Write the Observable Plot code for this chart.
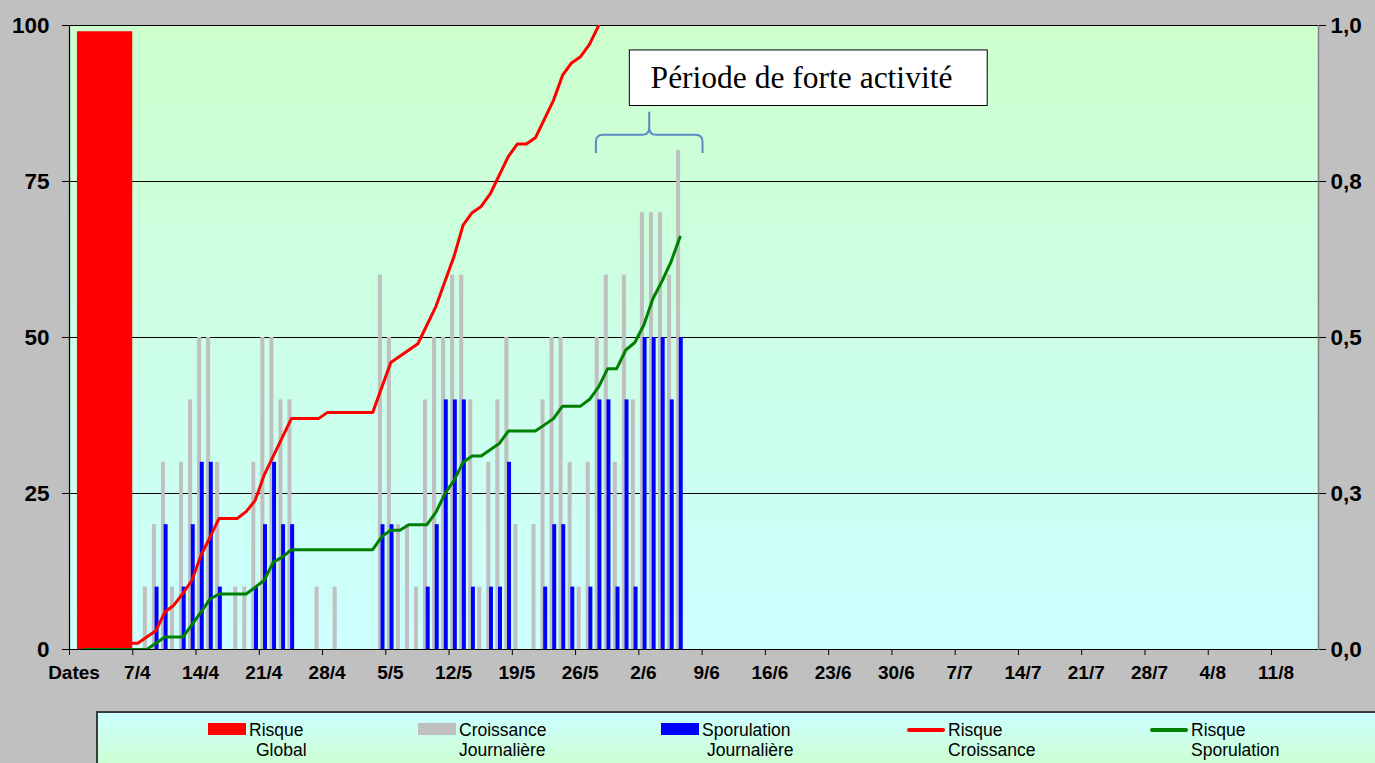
<!DOCTYPE html>
<html>
<head>
<meta charset="utf-8">
<script src="https://cdn.jsdelivr.net/npm/d3@7"></script>
<script src="https://cdn.jsdelivr.net/npm/@observablehq/plot@0.6"></script>
<style>
  html, body { margin: 0; padding: 0; }
  body { width: 1375px; height: 763px; overflow: hidden; position: relative; background: #c0c0c0; font-family: "Liberation Sans", Arial, sans-serif; }
  #chart { position: absolute; left: 0; top: 0; }
  #legend { position: absolute; left: 96px; top: 711px; width: 1300px; height: 60px; box-sizing: border-box;
            border-top: 2px solid #3a3a3a; border-left: 2px solid #3a3a3a;
            background: linear-gradient(#ccffff, #ccffcc); }
  .item { position: absolute; top: 0; font-size: 17.5px; color: #000; line-height: 20px; }
  .sw { position: absolute; }
  .l1, .l2 { position: absolute; white-space: nowrap; }
</style>
</head>
<body>
<div id="chart"></div>
<div id="legend"></div>
<script>
// ---------- data (category k: 0 = "Dates", 1 = 1/4, 7 = 7/4, ...) ----------
const tickLabels = ["Dates","7/4","14/4","21/4","28/4","5/5","12/5","19/5","26/5","2/6","9/6",
                    "16/6","23/6","30/6","7/7","14/7","21/7","28/7","4/8","11/8"];
const tickStep = 7;
const nCategories = 138.2;
const yTicks = [0, 25, 50, 75, 100];
const leftLabels = ["0", "25", "50", "75", "100"];
const rightLabels = ["0,0", "0,3", "0,5", "0,8", "1,0"];

const risqueGlobal = 99;

// daily values from 1/4 (k = 1) onwards
const croissance = [0,0,0,0,0,0,0,10,20,30,10,30,40,50,50,30,0,10,10,30,50,50,40,40,0,0,10,0,10,0,
                    0,0,0,60,50,20,20,10,40,50,50,60,60,40,10,30,40,50,20,0,20,40,50,50,30,10,30,50,60,30,
                    60,40,70,70,70,60,80];
const sporulation = [0,0,0,0,0,0,0,0,10,20,0,10,20,30,30,10,0,0,0,10,20,30,20,20,0,0,0,0,0,0,
                     0,0,0,20,20,0,0,0,10,20,40,40,40,10,0,10,10,30,0,0,0,10,20,20,10,0,10,40,40,10,
                     40,10,50,50,50,40,50];
const risqueCroissance = [0.01,0.01,0.01,0.01,0.01,0.01,0.01,0.02,0.03,0.06,0.071,0.09,0.111,0.151,0.18,0.21,0.21,0.21,0.221,0.239,
                          0.28,0.31,0.34,0.37,0.37,0.37,0.37,0.38,0.38,0.38,0.38,0.38,0.38,0.42,0.46,0.47,0.48,0.49,0.52,0.55,
                          0.59,0.63,0.68,0.70,0.71,0.73,0.76,0.79,0.81,0.81,0.82,0.85,0.88,0.92,0.94,0.95,0.97,1.0,1.04];
const risqueSporulation = [0,0,0,0,0,0,0,0,0.01,0.02,0.02,0.02,0.04,0.06,0.081,0.089,0.089,0.089,0.089,0.10,
                           0.111,0.14,0.148,0.16,0.16,0.16,0.16,0.16,0.16,0.16,0.16,0.16,0.16,0.181,0.191,0.191,0.2,0.2,0.2,0.22,
                           0.25,0.271,0.30,0.31,0.31,0.32,0.33,0.35,0.35,0.35,0.35,0.36,0.37,0.39,0.39,0.39,0.401,0.421,0.45,0.45,
                           0.48,0.492,0.52,0.562,0.59,0.621,0.661];

const activity = { label: "Période de forte activité", start: 58.3, end: 70.1 };

const legendItems = [
  { lines: ["Risque", "Global"], kind: "rect", color: "#ff0000" },
  { lines: ["Croissance", "Journalière"], kind: "rect", color: "#c0c0c0" },
  { lines: ["Sporulation", "Journalière"], kind: "rect", color: "#0000ff" },
  { lines: ["Risque", "Croissance"], kind: "line", color: "#ff0000" },
  { lines: ["Risque", "Sporulation"], kind: "line", color: "#008000" }
];

// ---------- derived tables ----------
const series = arr => arr.map((v, i) => ({ k: i + 1, v }));
const grayBars = series(croissance).filter(d => d.v > 0);
const blueBars = series(sporulation).filter(d => d.v > 0);
const redLine = series(risqueCroissance);
const greenLine = series(risqueSporulation);
const tickPos = tickLabels.map((_, i) => i * tickStep);

const boldFont = "'Liberation Sans', Arial, sans-serif";

function braceMark(index, scales) {
  const x = scales.x, y = scales.y;
  const xl = x(activity.start), xr = x(activity.end), xc = (xl + xr) / 2;
  const yb = y(79.5), ym = y(82.4), yt = y(86.1);
  const r = 7;
  const d = `M${xl},${yb} V${ym + r} Q${xl},${ym} ${xl + r},${ym} H${xc - r} Q${xc},${ym} ${xc},${ym - r} V${yt}` +
            ` M${xc},${ym - r} Q${xc},${ym} ${xc + r},${ym} H${xr - r} Q${xr},${ym} ${xr},${ym + r} V${yb}`;
  const p = document.createElementNS("http://www.w3.org/2000/svg", "path");
  p.setAttribute("d", d);
  p.setAttribute("fill", "none");
  p.setAttribute("stroke", "#5b8ac4");
  p.setAttribute("stroke-width", "2");
  return p;
}

const plot = Plot.plot({
  width: 1375,
  height: 700,
  marginLeft: 69,
  marginRight: 57,
  marginTop: 25,
  marginBottom: 51,
  style: { background: "transparent", color: "#000", fontFamily: boldFont, overflow: "visible" },
  x: { domain: [0, nCategories] },
  y: { domain: [0, 100] },
  marks: [
    Plot.frame({ fill: "url(#plotBg)" }),
    Plot.ruleY([25, 50, 75, 100], { stroke: "#000", strokeWidth: 1 }),
    Plot.rect(grayBars, { x1: d => d.k + 0.17, x2: d => d.k + 0.62, y1: 0, y2: "v", fill: "#c0c0c0" }),
    Plot.rect(blueBars, { x1: d => d.k + 0.47, x2: d => d.k + 0.91, y1: 0, y2: "v", fill: "#0000ff" }),
    Plot.rect([risqueGlobal], { x1: 0.88, x2: 7.0, y1: 0, y2: d => d, fill: "#ff0000" }),
    Plot.line(redLine, { x: d => d.k + 0.55, y: d => d.v * 100, stroke: "#ff0000", strokeWidth: 3, clip: true }),
    Plot.line(greenLine, { x: d => d.k + 0.55, y: d => d.v * 100, stroke: "#008000", strokeWidth: 3, clip: true }),
    Plot.ruleX([0], { stroke: "#000", strokeWidth: 1.2 }),
    Plot.ruleX([nCategories], { stroke: "#808080", strokeWidth: 1.5 }),
    Plot.ruleY([0], { stroke: "#000", strokeWidth: 1.2 }),
    Plot.axisY({ anchor: "left", ticks: yTicks, tickSize: 7, tickPadding: 13, label: null,
                 tickFormat: d => leftLabels[yTicks.indexOf(d)], fontSize: 22.5, fontWeight: "bold" }),
    Plot.axisY({ anchor: "right", ticks: yTicks, tickSize: 7, tickPadding: 5, label: null,
                 tickFormat: d => rightLabels[yTicks.indexOf(d)], fontSize: 22.5, fontWeight: "bold" }),
    Plot.axisX({ ticks: tickPos, tickSize: 6, tickFormat: () => "", label: null }),
    Plot.axisX({ ticks: tickPos.map(k => k + 0.5), tickSize: 0, tickPadding: 16, label: null,
                 tickFormat: d => tickLabels[tickPos.indexOf(d - 0.5)], fontSize: 19, fontWeight: "bold" }),
    Plot.rect([activity], { x1: 62.0, x2: 101.6, y1: 87.1, y2: 96.0, fill: "#ffffff", stroke: "#000", strokeWidth: 1 }),
    Plot.text([activity], { x: 64.3, y: 91.6, text: d => d.label, textAnchor: "start", fontSize: 31.5,
                            fontFamily: "'Liberation Serif', 'Times New Roman', serif", fill: "#000" }),
    braceMark
  ]
});

const svgEl = plot.tagName.toLowerCase() === "svg" ? plot : plot.querySelector("svg");
const defs = d3.select(svgEl).insert("defs", ":first-child");
const grad = defs.append("linearGradient").attr("id", "plotBg").attr("x1", 0).attr("y1", 0).attr("x2", 0).attr("y2", 1);
grad.append("stop").attr("offset", "0%").attr("stop-color", "#ccffcc");
grad.append("stop").attr("offset", "100%").attr("stop-color", "#ccffff");
document.getElementById("chart").appendChild(plot);

// ---------- legend ----------
const legendLeft = 96;
const swatchX = [208, 418, 661, 907, 1150];
const line2Indent = [7, 0, 5, 0, 0];
const legend = d3.select("#legend");
legendItems.forEach((it, i) => {
  const x0 = swatchX[i] - legendLeft - 2;
  const item = legend.append("div").attr("class", "item").style("left", x0 + "px");
  if (it.kind === "rect") {
    item.append("div").attr("class", "sw")
      .style("left", "0px").style("top", "10px").style("width", "38px").style("height", "12px")
      .style("background", it.color);
  } else {
    item.append("div").attr("class", "sw")
      .style("left", "0px").style("top", "15px").style("width", "38px").style("height", "4px")
      .style("border-radius", "2px").style("background", it.color);
  }
  item.append("div").attr("class", "l1").style("left", "41px").style("top", "7px").text(it.lines[0]);
  item.append("div").attr("class", "l2").style("left", (41 + line2Indent[i]) + "px").style("top", "27px").text(it.lines[1]);
});
</script>
</body>
</html>
